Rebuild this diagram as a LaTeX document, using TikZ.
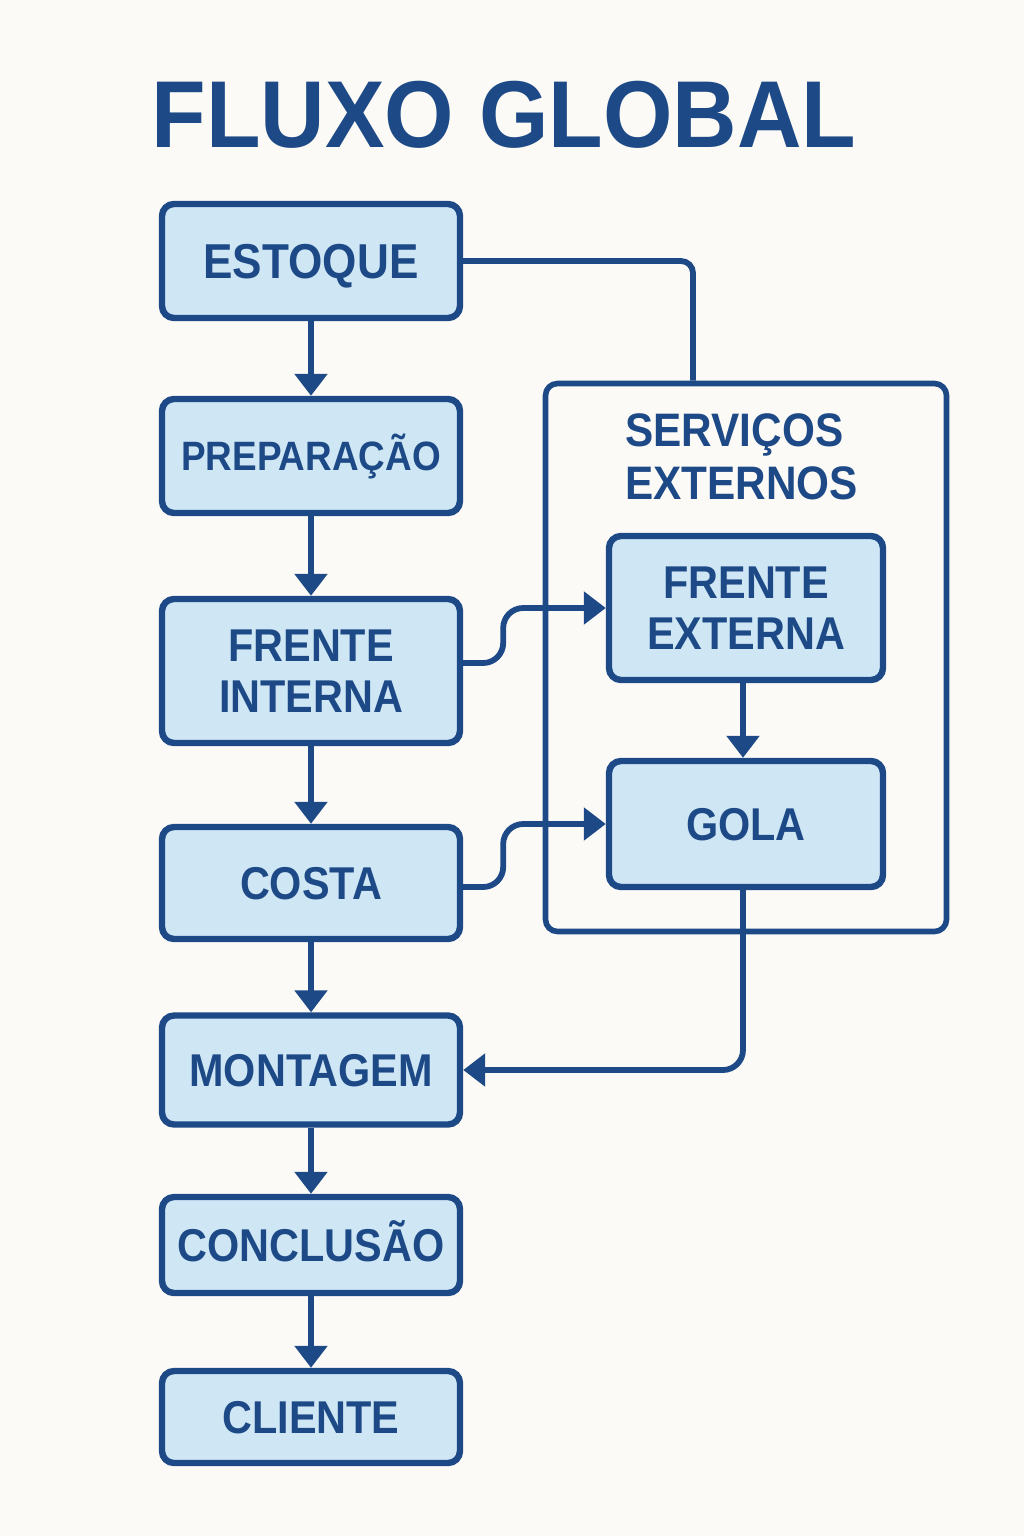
\documentclass[tikz,border=0pt]{standalone}
\usepackage{fontspec}
\setmainfont{Liberation Sans}
\newfontfamily\lblfont[FakeStretch=0.9]{Liberation Sans}
\newfontfamily\ttlfont[FakeStretch=0.94]{Liberation Sans}
\usetikzlibrary{arrows.meta}
\definecolor{navy}{HTML}{1D4A87}
\definecolor{boxfill}{HTML}{CFE7F5}
\definecolor{bgc}{HTML}{FCFAF6}
\begin{document}
\begin{tikzpicture}[x=0.5pt,y=-0.5pt,
  stepbox/.style={draw=navy, fill=boxfill, line width=3.2pt, rounded corners=6pt,
    minimum width=149pt, text=navy, inner sep=0pt,
    font=\lblfont\bfseries\fontsize{23}{25.5}\selectfont},
  oneline/.style={text height=16.5pt, text depth=0pt},
  twoline/.style={align=center},
  conn/.style={draw=navy, line width=2.9pt},
  arr/.style={conn, -{Triangle[length=11pt,width=16pt]}},
]
\fill[bgc] (0,0) rectangle (1024,1536);
\useasboundingbox (0,0) rectangle (1024,1536);

% title
\node[font=\ttlfont\bfseries\fontsize{47.5}{50}\selectfont, text=navy, anchor=base, inner sep=0pt] (title) at (504,148) {FLUXO GLOBAL};

% external services container
\node[draw=navy, line width=2.8pt, rounded corners=6pt, minimum width=200.5pt, minimum height=274pt, inner sep=0pt] (ext) at (746,657.5) {};
\node[anchor=west, align=left, text=navy, inner sep=0pt,
  font=\lblfont\bfseries\fontsize{23.5}{26.5}\selectfont] (sv) at (625,457) {SERVIÇOS\\EXTERNOS};

% left column
\node[stepbox, oneline, minimum height=57pt, font=\lblfont\bfseries\fontsize{24.5}{26}\selectfont, text height=17.5pt] (es) at (311,261) {ESTOQUE};
\node[stepbox, oneline, minimum height=57pt, font=\lblfont\bfseries\fontsize{20.5}{24}\selectfont, text height=14.7pt] (pr) at (311,456) {PREPARAÇÃO};
\node[stepbox, twoline, minimum height=72pt] (fi) at (311,671) {FRENTE\\INTERNA};
\node[stepbox, oneline, minimum height=56pt] (co) at (311,883) {COSTA};
\node[stepbox, oneline, minimum height=54.5pt] (mo) at (311,1070) {MONTAGEM};
\node[stepbox, oneline, minimum height=48pt] (cc) at (311,1245) {CONCLUSÃO};
\node[stepbox, oneline, minimum height=46pt] (cl) at (311,1417) {CLIENTE};

% right column
\node[stepbox, twoline, minimum width=137pt, minimum height=72pt] (fe) at (746,608) {FRENTE\\EXTERNA};
\node[stepbox, oneline, minimum width=137pt, minimum height=63pt] (go) at (746,824) {GOLA};

% vertical flow
\draw[arr] (es.south) -- (pr.north);
\draw[arr] (pr.south) -- (fi.north);
\draw[arr] (fi.south) -- (co.north);
\draw[arr] (co.south) -- (mo.north);
\draw[arr] (mo.south) -- (cc.north);
\draw[arr] (cc.south) -- (cl.north);
\draw[arr] ([xshift=-1.5pt]fe.south) -- ([xshift=-1.5pt]go.north);

% estoque to external services
\draw[conn, rounded corners=6pt] (es.east) -| ([xshift=-26.5pt]ext.north);

% S-shaped connectors
\draw[arr, rounded corners=10pt] ([yshift=4pt]fi.east) -- ++(20pt,0) |- (fe.west);
\draw[arr, rounded corners=10pt] ([yshift=-2pt]co.east) -- ++(20pt,0) |- (go.west);

% gola back to montagem
\draw[arr, rounded corners=10pt] ([xshift=-1.5pt]go.south) |- (mo.east);
\end{tikzpicture}
\end{document}
